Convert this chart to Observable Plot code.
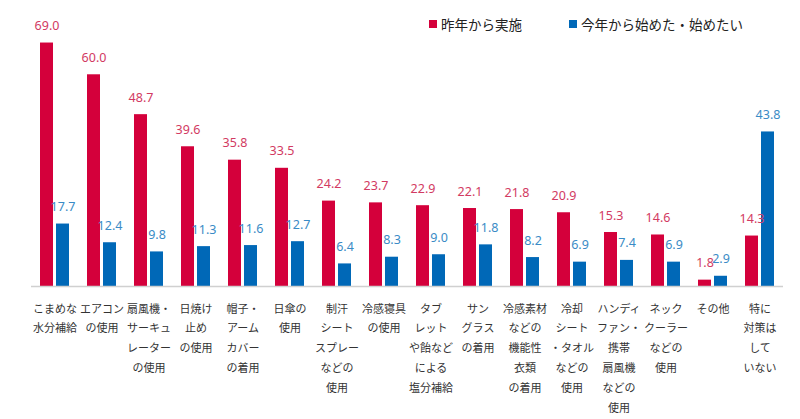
<!DOCTYPE html>
<html><head><meta charset="utf-8">
<script src="https://cdn.jsdelivr.net/npm/d3@7"></script>
<script src="https://cdn.jsdelivr.net/npm/@observablehq/plot@0.6"></script>
<style>
body{margin:0;background:#fff;font-family:"Noto Sans","Noto Sans CJK JP",sans-serif;}
#wrap{position:relative;width:800px;height:419px;overflow:hidden;}
.leg{position:absolute;top:14px;height:20px;font-size:13.5px;color:#222;display:flex;align-items:center;font-family:"Noto Sans CJK JP",sans-serif;white-space:nowrap;}
.sw{width:8px;height:8px;margin-right:4px;}
</style></head><body><div id="wrap"></div>
<script>
const categories = ["こまめな水分補給","エアコンの使用","扇風機・サーキュレーターの使用","日焼け止めの使用","帽子・アームカバーの着用","日傘の使用","制汗シートスプレーなどの使用","冷感寝具の使用","タブレットや飴などによる塩分補給","サングラスの着用","冷感素材などの機能性衣類の着用","冷却シート・タオルなどの使用","ハンディファン・携帯扇風機などの使用","ネッククーラーなどの使用","その他","特に対策はしていない"];
const tickLabels = ["こまめな\n水分補給","エアコン\nの使用","扇風機・\nサーキュ\nレーター\nの使用","日焼け\n止め\nの使用","帽子・\nアーム\nカバー\nの着用","日傘の\n使用","制汗\nシート\nスプレー\nなどの\n使用","冷感寝具\nの使用","タブ\nレット\nや飴など\nによる\n塩分補給","サン\nグラス\nの着用","冷感素材\nなどの\n機能性\n衣類\nの着用","冷却\nシート\n・タオル\nなどの\n使用","ハンディ\nファン・\n携帯\n扇風機\nなどの\n使用","ネック\nクーラー\nなどの\n使用","その他","特に\n対策は\nして\nいない"];
const seriesNames = ["昨年から実施","今年から始めた・始めたい"];
const lastYear = [69.0,60.0,48.7,39.6,35.8,33.5,24.2,23.7,22.9,22.1,21.8,20.9,15.3,14.6,1.8,14.3];
const thisYear = [17.7,12.4,9.8,11.3,11.6,12.7,6.4,8.3,9.0,11.8,8.2,6.9,7.4,6.9,2.9,43.8];

const barColors = ["#d4003b","#0068b7"];
const labelColors = ["#d23a62","#3a8bc6"];

const data = categories.flatMap((c,i)=>[
  {cat:c, series:seriesNames[0], value:lastYear[i]},
  {cat:c, series:seriesNames[1], value:thisYear[i]}
]);

const chart = Plot.plot({
  width:800, height:419,
  marginTop:39, marginBottom:133, marginLeft:28, marginRight:14.7,
  style:{fontFamily:'"Noto Sans","Noto Sans CJK JP",sans-serif', background:"#fff"},
  fx:{domain:categories, padding:0, label:null},
  x:{domain:seriesNames, paddingInner:0.176, paddingOuter:0.48, axis:null},
  y:{domain:[0,70], axis:null},
  color:{domain:seriesNames, range:barColors},
  marks:[
    Plot.barY(data,{fx:"cat", x:"series", y:"value", fill:"series"}),
    Plot.text(data,{fx:"cat", x:"series", y:"value", text:d=>d.value.toFixed(1), dy:-17, fontSize:12.5,
      fill:d=>labelColors[seriesNames.indexOf(d.series)]}),
    Plot.ruleY([0],{stroke:"#d0d0d0", strokeWidth:1.5}),
    Plot.axisFx({anchor:"bottom", tickSize:0, tickPadding:12, label:null, fontSize:11, lineHeight:1.8,
      fill:"#333", fontFamily:'"Noto Sans CJK JP",sans-serif',
      tickFormat:d=>tickLabels[categories.indexOf(d)]})
  ]
});
const wrap = document.getElementById("wrap");
wrap.appendChild(chart);
const legPos = [429, 569];
seriesNames.forEach((s,i)=>{
  const d = document.createElement("div");
  d.className = "leg";
  d.style.left = legPos[i] + "px";
  d.innerHTML = `<span class="sw" style="background:${barColors[i]}"></span><span>${s}</span>`;
  wrap.appendChild(d);
});
</script></body></html>
